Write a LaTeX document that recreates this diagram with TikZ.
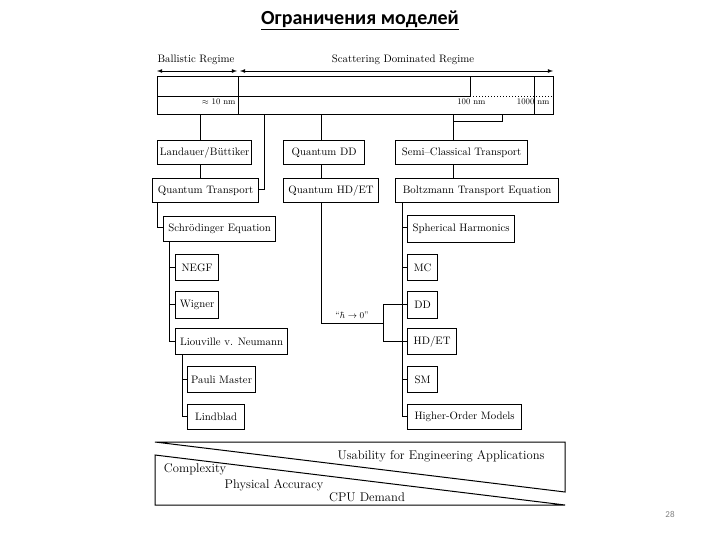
\documentclass[tikz,border=0pt]{standalone}
\usepackage{fontspec}
\newfontfamily\titlefont{Carlito}
\begin{document}
\begin{tikzpicture}[x=1pt,y=-1pt,line width=1pt,
  bx/.style={draw,fill=white,line width=1.2pt,anchor=north west,inner sep=0pt,font=\fontsize{10.8}{12}\selectfont},
  lab/.style={font=\fontsize{10.8}{12}\selectfont,inner sep=1pt},
  big/.style={font=\fontsize{12.6}{14}\selectfont,inner sep=1pt}]
\useasboundingbox (0,0) rectangle (720,540);
\node[font=\titlefont\bfseries\fontsize{20}{24}\selectfont] (title) at (360,20) {\underline{Ограничения моделей}};
% scale
\node[lab,anchor=west] (ball) at (156,60) {Ballistic Regime};
\node[lab] (scat) at (403,60) {Scattering Dominated Regime};
\draw[<->,>=latex,line width=0.8pt] (157,71) -- (237,71);
\draw[<->,>=latex,line width=0.8pt] (240,71) -- (553,71);
\draw (157,77) rectangle (553,115);
\draw (157,97) -- (470,97);
\draw[dotted] (470,97) -- (553,97);
\draw (238,77) -- (238,115);
\draw (470,77) -- (470,97);
\draw (534,77) -- (534,115);
\node[lab,anchor=east,font=\fontsize{8.5}{9}\selectfont] (l10) at (237,102) {$\approx$ 10 nm};
\node[lab,anchor=east,font=\fontsize{8.5}{9}\selectfont] (l100) at (487,102) {100 nm};
\node[lab,anchor=east,font=\fontsize{8.5}{9}\selectfont] (l1000) at (551,102) {1000 nm};
% connectors (behind boxes)
\draw (200,115) -- (200,178);
\draw (264,115) -- (264,190) -- (258,190);
\draw (321,115) -- (321,178);
\draw (453,115) -- (453,178);
\draw (453,122) -- (502,122) -- (502,115);
\draw (157,202) -- (157,228) -- (163,228);
\draw (169,241) -- (169,341);
\foreach \y in {267,304,341} \draw (169,\y) -- (176,\y);
\draw (182,354) -- (182,416);
\foreach \y in {379,416} \draw (182,\y) -- (188,\y);
\draw (402,202) -- (402,416);
\foreach \y in {228,267,304,341,379,416} \draw (402,\y) -- (408,\y);
\draw (321,202) -- (321,323) -- (383,323);
\draw (383,304) -- (383,341);
\draw (383,304) -- (402,304);
\draw (383,341) -- (402,341);
% boxes
\node[bx,minimum width=94,minimum height=24] (lb) at (157,140) {Landauer/Büttiker};
\node[bx,minimum width=106,minimum height=24] (qt) at (152,178) {Quantum Transport};
\node[bx,minimum width=81,minimum height=24] (qdd) at (283,140) {Quantum DD};
\node[bx,minimum width=95,minimum height=24] (qhd) at (283,178) {Quantum HD/ET};
\node[bx,minimum width=132,minimum height=24] (sct) at (395,140) {Semi--Classical Transport};
\node[bx,minimum width=163,minimum height=24] (bte) at (395,178) {Boltzmann Transport Equation};
\node[bx,minimum width=112,minimum height=25] (sch) at (163,216) {Schrödinger Equation};
\node[bx,minimum width=43,minimum height=26] (negf) at (175,254) {NEGF};
\node[bx,minimum width=43,minimum height=27] (wig) at (175,291) {Wigner};
\node[bx,minimum width=112,minimum height=26] (liou) at (175,328) {Liouville v. Neumann};
\node[bx,minimum width=68,minimum height=26] (pauli) at (187,366) {Pauli Master};
\node[bx,minimum width=57,minimum height=25] (lind) at (187,404) {Lindblad};
\node[bx,minimum width=107,minimum height=27] (sh) at (407,215) {Spherical Harmonics};
\node[bx,minimum width=30,minimum height=26] (mc) at (407,254) {MC};
\node[bx,minimum width=30,minimum height=27] (dd) at (407,291) {DD};
\node[bx,minimum width=49,minimum height=26] (hd) at (407,328) {HD/ET};
\node[bx,minimum width=30,minimum height=26] (sm) at (407,366) {SM};
\node[bx,minimum width=114,minimum height=25] (hom) at (407,404) {Higher-Order Models};
\node[lab,font=\fontsize{9.5}{10}\selectfont] (hbar) at (352,315) {``$\hbar\to0$''};
% bottom wedges
\draw (155,442) -- (565,442) -- (565,492) -- cycle;
\draw (155,455) -- (565,505) -- (155,505) -- cycle;
\node[big] (use) at (441,456) {Usability for Engineering Applications};
\node[big] (cx) at (195,469) {Complexity};
\node[big] (pa) at (274,485) {Physical Accuracy};
\node[big] (cpu) at (367,497) {CPU Demand};
\node[font=\titlefont\fontsize{9}{10}\selectfont,text=gray] (pg) at (670,514) {28};
\end{tikzpicture}
\end{document}
